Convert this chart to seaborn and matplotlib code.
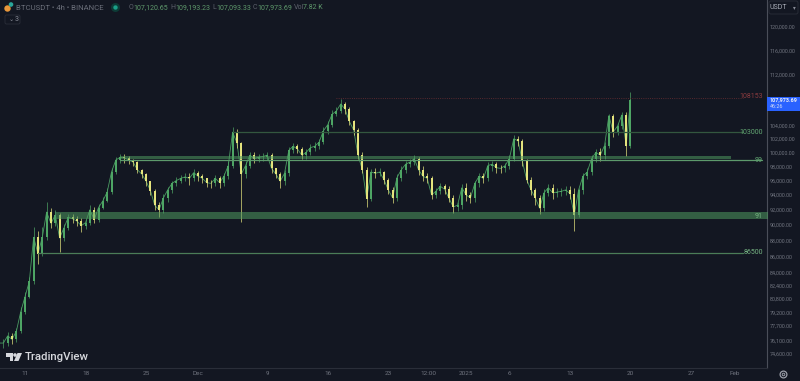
import pandas as pd
import matplotlib
matplotlib.use("Agg")
import matplotlib.pyplot as plt
import matplotlib.dates as mdates
from matplotlib.patches import Circle, Polygon, Rectangle, FancyBboxPatch
from matplotlib.ticker import NullLocator
import seaborn as sns

# Candle data, one reading every 12h from 8 Nov 2024 (thousands of USDT)
closes = [75.8, 75.8, 76.6, 76.2, 77.1, 79.3, 81.1, 82.9, 88.4, 86.3, 88.4, 91.7, 90.2, 91.3, 88.3, 89.6,
          91.0, 90.8, 90.5, 89.9, 90.3, 92.0, 90.7, 92.3, 93.2, 94.4, 97.2, 98.9, 99.3, 99.2, 98.9, 98.6,
          97.5, 96.9, 95.9, 94.6, 92.6, 92.0, 93.6, 94.7, 95.6, 96.0, 96.3, 96.5, 96.3, 97.1, 96.6, 96.3,
          95.7, 95.6, 96.3, 95.7, 96.6, 98.1, 103.0, 101.4, 96.9, 98.1, 99.6, 99.1, 99.3, 99.4, 99.6, 97.7,
          96.9, 95.9, 97.0, 100.3, 100.9, 100.5, 99.6, 100.0, 100.7, 100.9, 101.5, 103.2, 104.1, 105.7, 106.2, 107.3,
          106.5, 104.6, 103.3, 99.6, 97.5, 93.5, 97.2, 97.0, 97.2, 96.1, 94.7, 93.6, 96.4, 97.5, 98.3, 98.6,
          99.1, 97.5, 96.6, 96.3, 94.0, 94.5, 95.2, 94.8, 93.6, 92.4, 92.6, 95.0, 94.0, 93.6, 95.6, 96.6,
          96.3, 98.1, 98.3, 97.8, 97.7, 98.1, 99.1, 102.0, 101.7, 98.7, 96.1, 94.7, 93.6, 92.2, 94.3, 95.0,
          94.3, 94.4, 94.5, 94.7, 94.2, 91.3, 94.7, 96.6, 97.2, 99.1, 100.0, 99.6, 101.0, 105.5, 103.0, 103.9,
          105.6, 101.0, 107.97]
opens = [75.6] + closes[:-1]
highs = [76.2, 76.3, 77.0, 76.9, 77.5, 79.9, 81.6, 83.4, 89.7, 89.2, 89.7, 93.1, 92.3, 92.0, 91.6, 90.1,
         91.5, 91.5, 91.2, 90.9, 90.8, 92.6, 92.4, 92.8, 93.7, 94.9, 97.8, 99.4, 99.8, 99.8, 99.5, 99.1,
         98.8, 97.6, 97.1, 96.0, 94.8, 93.0, 94.1, 95.1, 96.0, 96.5, 96.8, 97.0, 97.0, 97.6, 97.3, 96.9,
         96.4, 96.1, 96.8, 96.6, 97.1, 98.7, 103.8, 103.4, 101.6, 98.7, 100.0, 100.1, 99.8, 99.9, 100.1, 99.9,
         97.8, 97.2, 97.5, 100.8, 101.4, 101.2, 100.8, 100.5, 101.2, 101.5, 102.0, 103.8, 104.6, 106.3, 106.8, 108.15,
         107.6, 106.8, 104.9, 103.6, 100.0, 97.9, 97.6, 97.8, 97.7, 97.4, 96.4, 95.1, 96.9, 98.0, 98.8, 99.1,
         99.6, 99.3, 98.0, 97.0, 96.7, 94.9, 95.6, 95.5, 95.2, 94.0, 93.1, 95.5, 95.6, 94.4, 96.0, 97.1,
         97.0, 98.6, 98.8, 98.6, 98.2, 98.5, 99.6, 102.6, 102.4, 102.0, 99.0, 96.5, 95.0, 94.0, 94.8, 95.5,
         95.5, 94.9, 95.0, 95.2, 95.2, 94.9, 95.0, 97.0, 97.7, 99.6, 100.5, 100.6, 101.5, 105.8, 105.7, 104.4,
         106.1, 106.0, 109.19]
lows = [75.4, 75.3, 75.5, 75.7, 75.9, 76.9, 79.1, 80.9, 82.6, 85.0, 86.0, 88.1, 89.6, 89.9, 86.5, 87.9,
        89.4, 90.2, 89.9, 89.1, 89.5, 90.0, 90.2, 90.4, 92.1, 93.0, 94.1, 96.9, 98.5, 98.5, 98.3, 98.1,
        97.0, 96.3, 95.3, 94.0, 92.0, 91.0, 91.6, 93.1, 94.3, 95.2, 95.6, 95.9, 95.4, 95.9, 96.0, 95.7,
        95.1, 94.9, 95.3, 95.0, 95.3, 96.2, 97.8, 100.6, 90.4, 96.3, 97.7, 98.5, 98.6, 98.8, 98.9, 97.0,
        96.3, 95.0, 95.4, 96.7, 99.9, 99.9, 99.0, 99.1, 99.6, 100.2, 100.5, 101.2, 102.7, 103.7, 105.4, 105.9,
        105.8, 104.0, 102.6, 99.1, 97.0, 92.4, 93.2, 96.3, 96.6, 95.5, 94.1, 92.9, 93.2, 96.0, 97.1, 97.9,
        98.2, 96.8, 95.9, 95.6, 93.4, 93.6, 94.1, 94.2, 93.0, 91.6, 91.8, 92.1, 93.2, 92.9, 93.1, 95.1,
        95.6, 96.0, 97.4, 97.0, 97.0, 97.2, 97.6, 98.7, 100.9, 98.0, 95.6, 94.0, 92.6, 91.4, 91.9, 93.8,
        93.5, 93.7, 93.8, 94.0, 93.5, 89.2, 91.0, 94.2, 96.2, 96.8, 98.6, 98.7, 99.0, 100.6, 102.2, 102.6,
        103.5, 99.5, 100.6]

# Price axis ticks
price_ticks = [120000, 116000, 112000, 104000, 102000, 100000, 98000, 96000, 94000, 92000, 90000, 88000,
               86000, 84000, 82400, 80800, 79200, 77700, 76100, 74600]

# Time axis ticks
time_ticks = ["2024-11-11", "2024-11-18", "2024-11-25", "2024-12-01", "2024-12-09", "2024-12-16", "2024-12-23",
              "2024-12-27 14:00", "2025-01-01", "2025-01-06", "2025-01-13", "2025-01-20", "2025-01-27", "2025-02-01"]
time_labels = ["11", "18", "25", "Dec", "9", "16", "23", "12:00", "2025", "6", "13", "20", "27", "Feb"]

# Horizontal levels drawn on the chart
level_prices = [103000, 98850, 86450]
level_starts = ["2024-12-05", "2024-11-22", "2024-11-12 12:00"]
level_ends = ["2025-02-02", "2025-02-04 05:00", "2025-02-02"]
level_colors = ["#33573f", "#5d9a6c", "#4b7d58"]
zone_tops = [99450, 91750]
zone_bottoms = [99050, 90750]
zone_starts = ["2024-11-22", "2024-11-14 12:00"]
zone_ends = ["2025-01-31 16:00", "2025-02-07"]
resistance = 108153

BG = "#131722"
GREY = "#70747f"
UP = "#4fa866"
DOWN = "#e8e77f"
W, H = 800, 381


def to_dates(values):
    return pd.to_datetime(values, format="mixed")


sns.set_theme(style="dark", rc={"axes.facecolor": BG, "figure.facecolor": BG})
plt.rcParams["font.family"] = ["Roboto", "DejaVu Sans"]

fig = plt.figure(figsize=(8, 3.81), dpi=100)
ax = fig.add_axes([0, 13 / H, 766.5 / W, 368 / H])
ax.set_yscale("log")

# Long form tables for the candles
dates = pd.date_range("2024-11-08", periods=len(closes), freq="12h")
candles = pd.DataFrame({"date": dates, "open": opens, "close": closes, "high": highs, "low": lows})
candles["candle"] = range(len(candles))
candles["side"] = ["up" if c >= o else "down" for o, c in zip(opens, closes)]
wicks = candles.melt(id_vars=["candle", "date", "side"], value_vars=["low", "high"], value_name="price")
bodies = candles.melt(id_vars=["candle", "date", "side"], value_vars=["open", "close"], value_name="price")
wicks["price"] *= 1000
bodies["price"] *= 1000
candles["close_price"] = candles["close"] * 1000

palette = {"up": UP, "down": DOWN}
# Thin line through the closes, the real chart is dense enough to read as one
sns.lineplot(data=candles, x="date", y="close_price", color="#4a9a62", linewidth=0.6, ax=ax, zorder=1)
sns.lineplot(data=wicks, x="date", y="price", units="candle", estimator=None, hue="side", palette=palette,
             linewidth=0.6, alpha=0.8, legend=False, ax=ax, solid_capstyle="butt", sort=False, zorder=2)
sns.lineplot(data=bodies, x="date", y="price", units="candle", estimator=None, hue="side", palette=palette,
             linewidth=1.4, legend=False, ax=ax, solid_capstyle="butt", sort=False, zorder=3)

# Support and resistance levels
for price, start, end, color in zip(level_prices, level_starts, level_ends, level_colors):
    line = pd.DataFrame({"date": to_dates([start, end]), "price": [price, price]})
    sns.lineplot(data=line, x="date", y="price", color=color, linewidth=0.9, ax=ax, zorder=5)
for top, bottom, start, end in zip(zone_tops, zone_bottoms, zone_starts, zone_ends):
    ax.fill_between(to_dates([start, end]), [bottom, bottom], [top, top], color="#4f9a5f",
                    alpha=0.55, linewidth=0, zorder=5)
line = pd.DataFrame({"date": to_dates(["2024-12-17", "2025-02-02"]), "price": [resistance, resistance]})
sns.lineplot(data=line, x="date", y="price", color="#6e2f33", linewidth=0.6, linestyle=":", ax=ax, zorder=5)

ax.set_ylim(73100, 124800)
left = mdates.date2num(pd.Timestamp("2024-11-11")) - 25 / 8.65
ax.set_xlim(left, left + 766.5 / 8.65)
ax.set_xlabel("")
ax.set_ylabel("")
ax.grid(False)

ax.yaxis.tick_right()
ax.yaxis.set_minor_locator(NullLocator())
ax.set_yticks(price_ticks)
ax.set_yticklabels([f"{p:,.2f}" for p in price_ticks])
ax.set_xticks(mdates.date2num(to_dates(time_ticks)))
ax.set_xticklabels(time_labels)
ax.tick_params(axis="y", length=0, pad=2.5, labelsize=3.9, colors=GREY)
ax.tick_params(axis="x", length=0, pad=2.5, labelsize=4.6, colors=GREY)
for side in ["top", "left"]:
    ax.spines[side].set_visible(False)
ax.spines["right"].set_color("#4a4e59")
ax.spines["right"].set_linewidth(0.8)
ax.spines["bottom"].set_color("#2a2e39")
ax.spines["bottom"].set_linewidth(0.8)


# Put text at a pixel position of the picture
def label(x, y, text, color=GREY, size=5, ha="left", weight="normal"):
    fig.text(x / W, 1 - y / H, text, color=color, fontsize=size, ha=ha, va="center", fontweight=weight)


def px_patch(patch):
    patch.set_transform(None)
    fig.add_artist(patch)


# Level labels
label(763, 97, "108153", "#8c3b3f", 5, "right")
label(763, 132.5, "103000", "#63a873", 5, "right")
label(763, 160, "99", "#63a873", 5, "right")
label(763, 217, "91", "#76b583", 5, "right")
label(763, 252.5, "86500", "#76b583", 5, "right")

# Last price tag
px_patch(Rectangle((767, H - 110.5), 33, 14, color="#2962ff", linewidth=0))
label(770, 100, "107,973.69", "#e8ecf5", 3.9, weight="bold")
label(770, 106.5, "46:26", "#d5def5", 3.9)

# Header
px_patch(Circle((7.5, H - 8.5), 3.2, color="#e9973a", linewidth=0))
px_patch(Circle((11, H - 4.5), 2.3, color="#2aa79b", linewidth=0))
label(16, 7.5, "BTCUSDT • 4h • BINANCE", "#6b6f7a", 5.6)
px_patch(Circle((115.5, H - 7.5), 4.5, color="#0d3b36", linewidth=0))
px_patch(Circle((115.5, H - 7.5), 2.2, color="#1aa088", linewidth=0))
for x, name, value in [(129, "O", "107,120.65"), (170.5, "H", "109,193.23"),
                       (212, "L", "107,093.33"), (253, "C", "107,973.69")]:
    label(x, 7.5, name, "#5d616c", 5)
    label(x + 4.5, 7.5, value, "#5f9a6c", 5)
label(294, 7.5, "Vol", "#5d616c", 5)
label(303, 7.5, "7.82 K", "#5f9a6c", 5)
px_patch(FancyBboxPatch((5, H - 24), 15, 9, boxstyle="round,pad=0,rounding_size=1.5", facecolor="none",
                        edgecolor="#2a2e39", linewidth=0.6))
label(8.5, 19.5, "⌄", "#8a8e99", 4.5)
label(15, 19.5, "3", "#8a8e99", 5)

# Currency button and settings icon
px_patch(FancyBboxPatch((769, H - 14), 29, 13, boxstyle="round,pad=0,rounding_size=2", facecolor="none",
                        edgecolor="#2a2e39", linewidth=0.6))
label(770, 7.5, "USDT", "#a8acb6", 5)
label(793, 7.5, "▾", "#8a8e99", 4)
px_patch(Circle((783.5, H - 374.5), 3.4, facecolor="none", edgecolor="#9a9ea8", linewidth=0.9))
px_patch(Circle((783.5, H - 374.5), 1.3, facecolor="none", edgecolor="#9a9ea8", linewidth=0.7))

# TradingView logo
logo = "#d6d8dd"
px_patch(Polygon([(6, H - 353), (13, H - 353), (13, H - 361), (9.5, H - 361), (9.5, H - 356.5), (6, H - 356.5)],
                 color=logo, linewidth=0))
px_patch(Circle((15, H - 355), 1.8, color=logo, linewidth=0))
px_patch(Polygon([(17.5, H - 353), (22, H - 353), (18.5, H - 361), (14, H - 361)], color=logo, linewidth=0))
label(25, 357, "TradingView", logo, 8.2, weight="medium")

fig.savefig("out.png", dpi=100, facecolor=BG)
